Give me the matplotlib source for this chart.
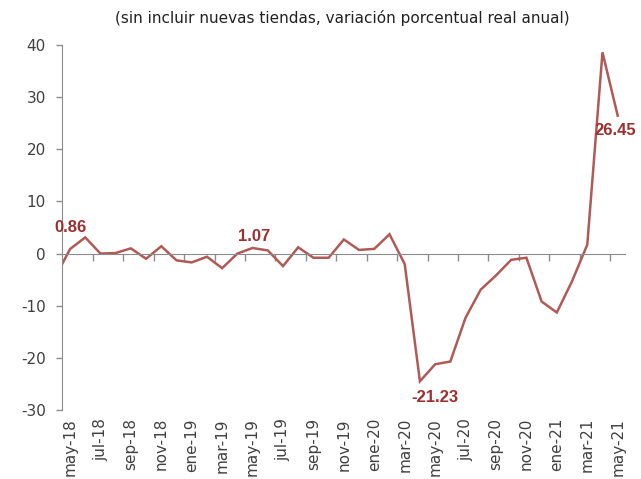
import matplotlib

matplotlib.use("Agg")
import matplotlib.pyplot as plt
import matplotlib.transforms as mtransforms
import numpy as np

# monthly series, apr-18 .. may-21 (apr-18 only enters at the left edge)
months = [
    "abr-18", "may-18", "jun-18", "jul-18", "ago-18", "sep-18", "oct-18", "nov-18", "dic-18",
    "ene-19", "feb-19", "mar-19", "abr-19", "may-19", "jun-19", "jul-19", "ago-19", "sep-19",
    "oct-19", "nov-19", "dic-19", "ene-20", "feb-20", "mar-20", "abr-20", "may-20", "jun-20",
    "jul-20", "ago-20", "sep-20", "oct-20", "nov-20", "dic-20", "ene-21", "feb-21", "mar-21",
    "abr-21", "may-21",
]
values = [
    -4.7, 0.86, 3.1, 0.0, 0.1, 1.0, -1.0, 1.4, -1.3,
    -1.7, -0.6, -2.8, 0.0, 1.07, 0.6, -2.4, 1.2, -0.8,
    -0.8, 2.7, 0.7, 0.9, 3.7, -2.0, -24.5, -21.23, -20.7,
    -12.3, -6.9, -4.2, -1.2, -0.8, -9.2, -11.3, -5.3, 1.7,
    38.6, 26.45,
]
labelled = {"may-18": 0.86, "may-19": 1.07, "may-20": -21.23, "may-21": 26.45}
title = "(sin incluir nuevas tiendas, variación porcentual real anual)"

LINE = "#b05a57"
TEXT_RED = "#9c2f2f"
GREY = "#8c8c8c"

plt.rcParams["font.family"] = "DejaVu Sans"
plt.rcParams["axes.unicode_minus"] = False

x = np.arange(len(months)) - 1  # may-18 sits at 0
fig = plt.figure(figsize=(6.41, 4.79), dpi=100)
ax = fig.add_axes([62.4 / 641, 1 - 410 / 479, (625.3 - 62.4) / 641, (410 - 45) / 479])

ax.plot(x, values, color=LINE, linewidth=1.8, solid_joinstyle="miter")
ax.set_xlim(-0.5, x[-1] + 0.5)
ax.set_ylim(-30, 40)
ax.set_yticks(np.arange(-30, 41, 10))

for side in ("top", "right"):
    ax.spines[side].set_visible(False)
ax.spines["left"].set_color(GREY)
ax.spines["bottom"].set_color(GREY)
ax.spines["bottom"].set_position(("data", 0))
ax.tick_params(axis="y", colors=GREY, length=4, width=1, pad=8, labelsize=11, labelcolor="#404040")

# tick marks between every second category, labels at the bottom
ax.set_xticks(np.arange(1.5, x[-1], 2))
ax.set_xticklabels([])
ax.tick_params(axis="x", colors=GREY, length=5, width=1, direction="out")

trans = mtransforms.blended_transform_factory(ax.transData, ax.transAxes)
for xi, name in zip(x, months):
    if xi >= 0 and xi % 2 == 0:
        ax.text(xi, -0.022, name, transform=trans, rotation=90, ha="center", va="top",
                fontsize=11, color="#404040")

offsets = {"may-18": (0, 15.5), "may-19": (1, 8), "may-20": (0, -24), "may-21": (-1.5, -11)}
for name, val in labelled.items():
    xi = x[months.index(name)]
    ax.annotate(f"{val:.2f}", (xi, val), xytext=offsets[name], textcoords="offset points",
                ha="center", va="center", fontsize=12, fontweight="bold", color=TEXT_RED,
                family=["Liberation Sans Narrow", "Liberation Sans"])

fig.text(342 / 641, 1 - 18 / 479, title, ha="center", va="center", fontsize=11, color="#222222")

fig.savefig("out.png", dpi=100)
plt.close(fig)
